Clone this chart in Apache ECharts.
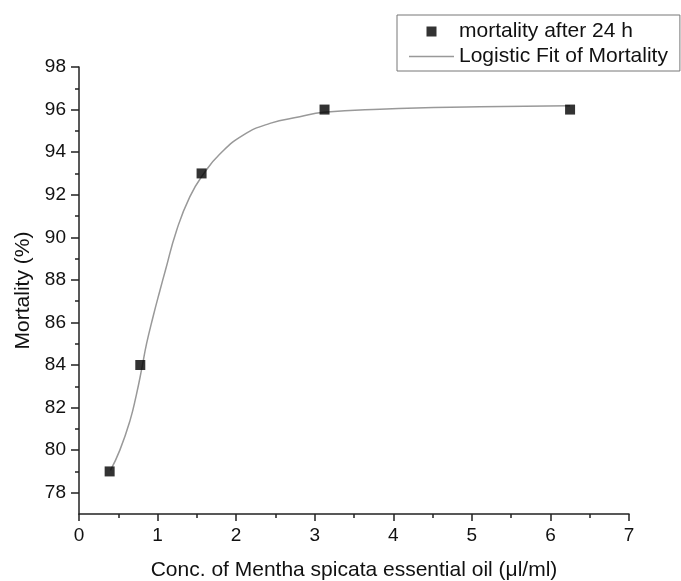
<!DOCTYPE html>
<html>
<head>
<meta charset="utf-8">
<script src="https://cdn.jsdelivr.net/npm/echarts@6/dist/echarts.min.js"></script>
<style>
  html, body { margin: 0; padding: 0; background: #fff; }
  #main { width: 681px; height: 581px; }
</style>
</head>
<body>
<div id="main"></div>
<script>
// measured points (conc in ul/ml, mortality %)
var concValues = [0.39, 0.78, 1.56, 3.125, 6.25];
var mortalityValues = [79, 84, 93, 96, 96];

// fitted curve
var fitX = [0.4, 0.52, 0.65, 0.73, 0.8, 0.86, 0.945, 1.03, 1.1, 1.24, 1.41, 1.59, 1.79, 2.09, 2.43, 2.81, 3.11, 3.83, 5.1, 6.25];
var fitY = [79.05, 80.0, 81.4, 82.6, 83.85, 85.0, 86.3, 87.5, 88.45, 90.3, 91.9, 93.0, 93.9, 94.8, 95.35, 95.66, 95.87, 96.02, 96.13, 96.18];

var xTicks = [0, 1, 2, 3, 4, 5, 6, 7];
var xMinorTicks = [0.5, 1.5, 2.5, 3.5, 4.5, 5.5, 6.5];
var yTicks = [78, 80, 82, 84, 86, 88, 90, 92, 94, 96, 98];
var yMinorTicks = [79, 81, 83, 85, 87, 89, 91, 93, 95, 97];

var font = 'Liberation Sans, Arial, sans-serif';
var axisColor = '#222';

var scatterData = concValues.map(function (x, i) { return [x, mortalityValues[i]]; });
var fitData = fitX.map(function (x, i) { return [x, fitY[i]]; });

var myChart = echarts.init(document.getElementById('main'));
myChart.setOption({
    backgroundColor: '#fff',
    animation: false,
    textStyle: { fontFamily: font },
    grid: { left: 79, right: 52, top: 67, bottom: 67, outerBoundsMode: 'none', containLabel: false },
    legend: {
        orient: 'vertical',
        left: 397,
        top: 15,
        padding: [6, 12, 4, 12],
        itemWidth: 45,
        itemHeight: 10,
        itemGap: 4,
        borderColor: '#777',
        borderWidth: 1,
        textStyle: { fontSize: 21, color: '#111', fontFamily: font },
        data: [
            { name: 'mortality after 24 h', icon: 'path://M0,0h10v10h-10z' },
            { name: 'Logistic Fit of Mortality', icon: 'path://M0,0h45v1.3h-45z' }
        ]
    },
    xAxis: [{
        type: 'value',
        min: 0,
        max: 7,
        interval: 1,
        name: 'Conc. of Mentha spicata essential oil (\u03bcl/ml)',
        nameLocation: 'middle',
        nameGap: 46,
        nameTextStyle: { fontSize: 21, color: '#111', fontFamily: font },
        axisLine: { onZero: false, lineStyle: { color: axisColor, width: 1.5 } },
        axisTick: { length: 7, lineStyle: { color: axisColor, width: 1.5 } },
        axisLabel: { fontSize: 19, color: '#111', margin: 12, fontFamily: font,
            customValues: xTicks },
        splitLine: { show: false }
    }, {
        type: 'value',
        min: 0,
        max: 7,
        position: 'bottom',
        axisLine: { show: false },
        axisTick: { length: 4, customValues: xMinorTicks, lineStyle: { color: axisColor, width: 1.5 } },
        axisLabel: { show: false },
        splitLine: { show: false }
    }],
    yAxis: [{
        type: 'value',
        min: 77,
        max: 98,
        name: 'Mortality (%)',
        nameLocation: 'middle',
        nameGap: 45,
        nameTextStyle: { fontSize: 21, color: '#111', fontFamily: font },
        axisLine: { show: true, onZero: false, lineStyle: { color: axisColor, width: 1.5 } },
        axisTick: { show: true, length: 8, customValues: yTicks, lineStyle: { color: axisColor, width: 1.5 } },
        axisLabel: { fontSize: 19, color: '#111', margin: 13, fontFamily: font, customValues: yTicks },
        splitLine: { show: false }
    }, {
        type: 'value',
        min: 77,
        max: 98,
        position: 'left',
        axisLine: { show: false },
        axisTick: { show: true, length: 4, customValues: yMinorTicks, lineStyle: { color: axisColor, width: 1.5 } },
        axisLabel: { show: false },
        splitLine: { show: false }
    }],
    series: [{
        name: 'mortality after 24 h',
        type: 'scatter',
        symbol: 'rect',
        symbolSize: 10,
        z: 3,
        itemStyle: { color: '#000' },
        data: scatterData
    }, {
        name: 'Logistic Fit of Mortality',
        type: 'line',
        smooth: 0.5,
        showSymbol: false,
        symbol: 'none',
        z: 2,
        lineStyle: { color: '#999', width: 1.5 },
        itemStyle: { color: '#999' },
        data: fitData
    }]
});
</script>
</body>
</html>
